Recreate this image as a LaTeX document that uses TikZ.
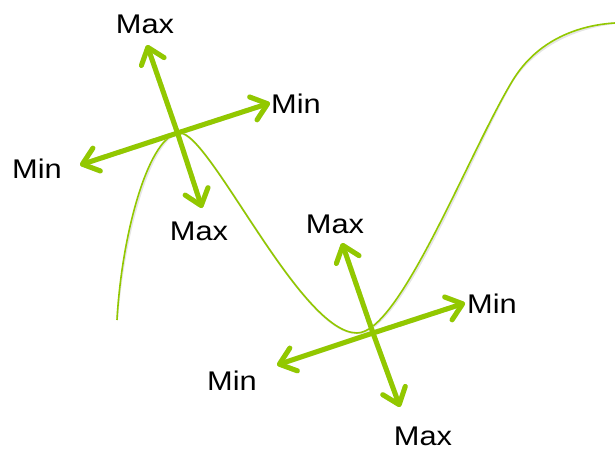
\documentclass[tikz,border=0pt]{standalone}
\usepackage{fontspec}
\setmainfont{Liberation Sans}
\usetikzlibrary{arrows.meta}
\definecolor{lime}{RGB}{146,200,0}
\tikzset{
  lbl/.style={anchor=base, inner sep=0pt, font=\fontsize{27}{30}\selectfont},
  dirarrow/.style={draw=lime, line width=5pt, line cap=round,
     -{Straight Barb[length=15pt, width=24pt, line cap=round, line join=round]}},
  shadowarrow/.style={draw=black!12, line width=5pt, line cap=round,
     -{Straight Barb[length=15pt, width=24pt, line cap=round, line join=round]}},
  curve/.style={draw=lime, line width=1.6pt},
  curveshadow/.style={draw=black!10, line width=2pt},
}
\newcommand{\lab}[1]{\scalebox{1.14}[1]{#1}}
\begin{document}
\begin{tikzpicture}[x=1pt,y=-1pt]
\useasboundingbox (0,0) rectangle (615,450);
% curve points
\coordinate (c0) at (117,320);
\coordinate (c1) at (180,133);
\coordinate (c2) at (357,333);
\coordinate (c3) at (513,80);
\coordinate (c4) at (615,23);
% curve shadow
\draw[curveshadow, shift={(1.5,2)}] (c0) .. controls (122,230) and (150,133) .. (c1)
  .. controls (210,133) and (300,333) .. (c2)
  .. controls (400,333) and (470,150) .. (c3)
  .. controls (538,39) and (580,25) .. (c4);
\draw[curve] (c0) .. controls (122,230) and (150,133) .. (c1)
  .. controls (210,133) and (300,333) .. (c2)
  .. controls (400,333) and (470,150) .. (c3)
  .. controls (538,39) and (580,25) .. (c4);
% upper cross
\coordinate (uc) at (177.5,133);
\coordinate (uMaxUp) at (147,45);
\coordinate (uMaxDn) at (202,208);
\coordinate (uMinR) at (270,103);
\coordinate (uMinL) at (80,165);
% lower cross
\coordinate (lc) at (373,333);
\coordinate (lMaxUp) at (342,243);
\coordinate (lMaxDn) at (400,407);
\coordinate (lMinR) at (465,303);
\coordinate (lMinL) at (277,365);
% shadows
\begin{scope}[shift={(1.5,2.5)}]
\foreach \t in {uMaxUp,uMaxDn,uMinR,uMinL}{\draw[shadowarrow] (uc) -- (\t);}
\foreach \t in {lMaxUp,lMaxDn,lMinR,lMinL}{\draw[shadowarrow] (lc) -- (\t);}
\end{scope}
\foreach \t in {uMaxUp,uMaxDn,uMinR,uMinL}{\draw[dirarrow] (uc) -- (\t);}
\foreach \t in {lMaxUp,lMaxDn,lMinR,lMinL}{\draw[dirarrow] (lc) -- (\t);}
% labels
\node[lbl] (tUMaxUp) at (145,33) {\lab{Max}};
\node[lbl] (tUMinR) at (296,113) {\lab{Min}};
\node[lbl] (tUMinL) at (37,178) {\lab{Min}};
\node[lbl] (tUMaxDn) at (199,240) {\lab{Max}};
\node[lbl] (tLMaxUp) at (335,233) {\lab{Max}};
\node[lbl] (tLMinR) at (492,313) {\lab{Min}};
\node[lbl] (tLMinL) at (232,390) {\lab{Min}};
\node[lbl] (tLMaxDn) at (423,445) {\lab{Max}};
\end{tikzpicture}
\end{document}
